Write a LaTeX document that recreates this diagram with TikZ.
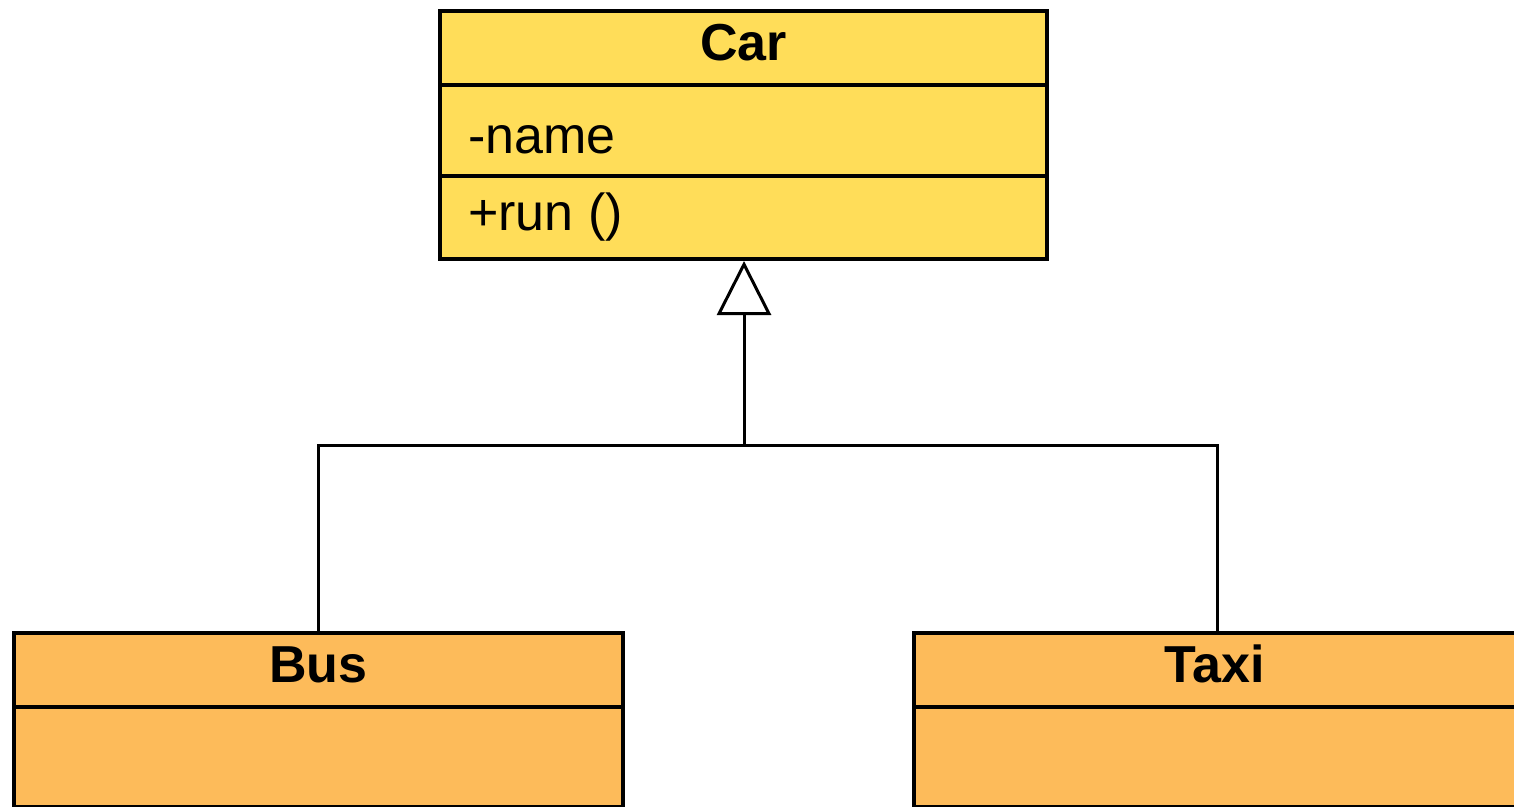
\documentclass[tikz,border=0pt]{standalone}
\usepackage{fontspec}
\setmainfont{Liberation Sans}
\usetikzlibrary{arrows.meta}
\definecolor{caryellow}{HTML}{FFDD59}
\definecolor{suborange}{HTML}{FDBB5A}
\tikzset{
  compartment/.style={draw=black, line width=4pt, rectangle, anchor=north west, inner sep=0pt, outer sep=0pt},
  classname/.style={anchor=base, font=\fontsize{52}{60}\selectfont\bfseries, inner sep=0pt},
  member/.style={anchor=base west, font=\fontsize{52}{60}\selectfont, inner sep=0pt},
  link/.style={draw=black, line width=3pt},
  inherit/.style={link, -{Triangle[open, length=54pt, width=54pt, line width=3pt]}}
}
\begin{document}
\begin{tikzpicture}[x=1pt, y=-1pt]
  \useasboundingbox (0,0) rectangle (1514,806);
  \clip (0,0) rectangle (1514,806);

  % superclass Car
  \node[compartment, fill=caryellow, minimum width=607pt, minimum height=74pt] (carhead) at (440,11) {};
  \node[compartment, fill=caryellow, minimum width=607pt, minimum height=91pt] (carattr) at (440,85) {};
  \node[compartment, fill=caryellow, minimum width=607pt, minimum height=83pt] (carops) at (440,176) {};
  \node[classname] (cartitle) at (743.5,60) {Car};
  \node[member] (carname) at (468,153) {-name};
  \node[member] (carrun) at (468,230) {+run ()};

  % subclass Bus
  \node[compartment, fill=suborange, minimum width=609pt, minimum height=74pt] (bushead) at (14,633) {};
  \node[compartment, fill=suborange, minimum width=609pt, minimum height=100pt] (busbody) at (14,707) {};
  \node[classname] (bustitle) at (318.5,682) {Bus};

  % subclass Taxi
  \node[compartment, fill=suborange, minimum width=609pt, minimum height=74pt] (taxihead) at (914,633) {};
  \node[compartment, fill=suborange, minimum width=609pt, minimum height=100pt] (taxibody) at (914,707) {};
  \node[classname] (taxititle) at (1215,682) {Taxi};

  % generalization tree
  \coordinate (join) at (744,445);
  \coordinate (bustop) at (318,631);
  \coordinate (taxitop) at (1217,631);
  \coordinate (carbottom) at (744,261);
  \draw[link] (bustop) |- (join);
  \draw[link] (taxitop) |- (join);
  \draw[inherit] (join) -- (carbottom);
\end{tikzpicture}
\end{document}
